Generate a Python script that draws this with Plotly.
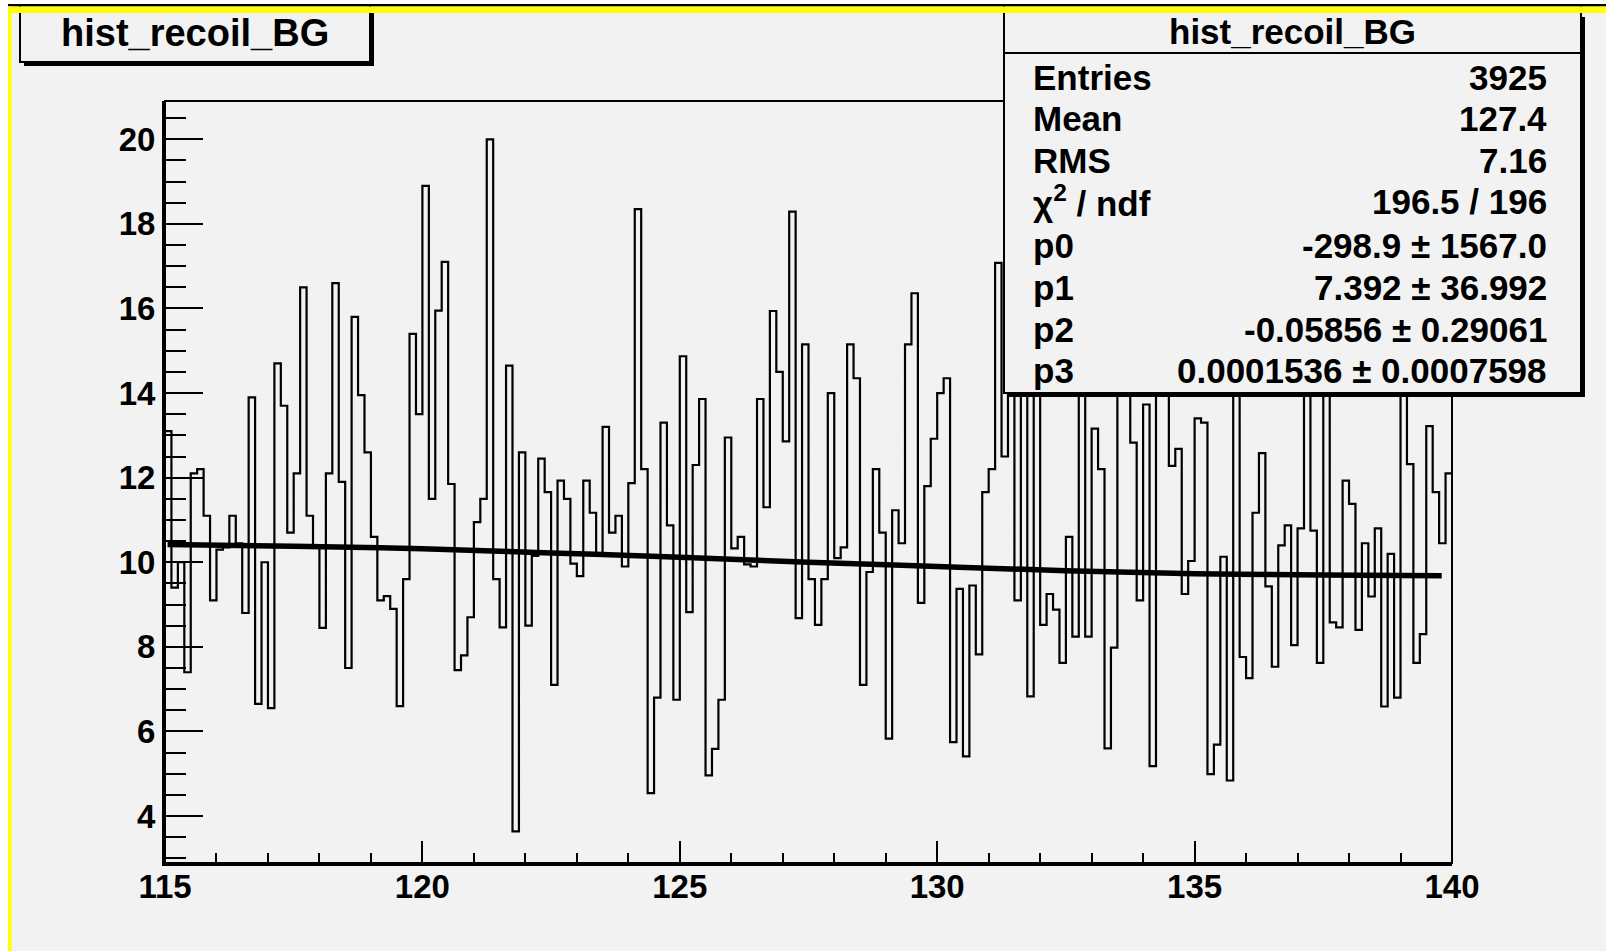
import plotly.graph_objects as go

# ---------------- data ----------------
x_min, x_max = 115.0, 140.0
bin_width = 0.125
counts = [
    13.1, 9.4, 10.0, 7.4, 12.1, 12.2, 11.1, 9.1, 10.3, 10.35,
    11.1, 10.45, 8.8, 13.9, 6.65, 10.0, 6.55, 14.7, 13.7, 10.7,
    12.1, 16.5, 11.1, 10.4, 8.45, 12.1, 16.6, 11.9, 7.5, 15.8,
    13.95, 12.6, 10.6, 9.1, 9.2, 8.9, 6.6, 9.6, 15.4, 13.5,
    18.9, 11.5, 15.95, 17.1, 11.85, 7.45, 7.8, 8.7, 10.95, 11.5,
    20.0, 9.6, 8.46, 14.65, 3.64, 12.6, 8.5, 10.15, 12.45, 11.66,
    7.1, 11.93, 11.5, 9.97, 9.67, 11.93, 11.17, 10.2, 13.2, 10.7,
    11.1, 9.9, 11.87, 18.35, 12.2, 4.54, 6.8, 13.3, 10.87, 6.75,
    14.87, 8.82, 12.3, 13.86, 4.96, 5.59, 6.75, 12.95, 10.33, 10.6,
    9.95, 9.9, 13.86, 11.3, 15.94, 14.5, 12.86, 18.29, 8.68, 15.15,
    9.6, 8.52, 9.6, 14.0, 10.1, 10.35, 15.15, 14.35, 7.1, 9.77,
    12.2, 10.7, 5.83, 11.23, 10.45, 15.15, 16.36, 9.04, 11.8, 12.92,
    14.0, 14.35, 5.75, 9.37, 5.41, 9.45, 7.82, 11.66, 12.2, 17.08,
    12.5, 15.6, 9.1, 16.2, 6.83, 15.0, 8.52, 9.25, 8.88, 7.62,
    10.6, 8.24, 15.4, 8.24, 13.16, 12.2, 5.6, 7.98, 14.8, 16.0,
    12.83, 9.1, 13.73, 5.18, 15.3, 14.6, 12.28, 12.68, 9.25, 10.03,
    13.4, 13.3, 4.99, 5.69, 10.13, 4.84, 14.9, 7.76, 7.26, 11.17,
    12.58, 9.43, 7.53, 10.4, 10.87, 8.04, 10.8, 15.7, 10.75, 7.62,
    16.4, 8.58, 8.46, 11.93, 11.38, 8.4, 10.45, 9.19, 10.8, 6.59,
    10.2, 6.8, 15.2, 12.32, 7.62, 8.3, 13.22, 11.66, 10.45, 12.1,
]

fit_x = [115.05, 117.5, 120.0, 122.5, 125.0, 127.5, 130.0, 132.5, 135.0, 137.5, 139.8]
fit_y = [10.42, 10.38, 10.32, 10.22, 10.12, 10.0, 9.9, 9.8, 9.73, 9.7, 9.68]

hist_name = "hist_recoil_BG"
stat_labels = ["Entries", "Mean", "RMS", "χ<sup>2</sup> / ndf", "p0", "p1", "p2", "p3"]
stat_values = ["3925", "127.4", "7.16", "196.5 / 196",
               "-298.9 ± 1567.0", "7.392 ± 36.992",
               "-0.05856 ± 0.29061", "0.0001536 ± 0.0007598"]

y_ticks = [4, 6, 8, 10, 12, 14, 16, 18, 20]
x_ticks = [115, 120, 125, 130, 135, 140]

# ---------------- layout geometry ----------------
W, H = 1606, 951
L, R, T, B = 165, 154, 101, 88
PW = W - L - R
PH = H - T - B
BG = "#f2f2f2"
FONT = "Liberation Sans"


def px(x):
    return (x - L) / PW


def py(y):
    return (H - B - y) / PH


edges = [x_min + i * bin_width for i in range(len(counts) + 1)]
hist_y = counts + [counts[-1]]

fig = go.Figure()
fig.add_trace(go.Scatter(x=edges, y=hist_y, mode="lines", line_shape="hv",
                         line=dict(color="black", width=2.2), hoverinfo="skip",
                         showlegend=False))
fig.add_trace(go.Scatter(x=fit_x, y=fit_y, mode="lines", line_shape="spline",
                         line=dict(color="black", width=5.5), hoverinfo="skip",
                         showlegend=False))

shapes = []
# plot frame (thin top/right)
shapes.append(dict(type="rect", xref="paper", yref="paper", x0=0, x1=1, y0=0, y1=1,
                   line=dict(color="black", width=2), layer="above"))


def rect(x0, y0, x1, y1, fill, line_w=0, line_c="black"):
    return dict(type="rect", xref="paper", yref="paper",
                x0=px(x0), x1=px(x1), y0=py(y1), y1=py(y0),
                fillcolor=fill, line=dict(color=line_c, width=line_w), layer="above")


# title box (top-left) with shadow
shapes.append(rect(24, 9, 374, 66, "black"))
shapes.append(rect(20, 5, 370, 62, BG, 2))
# stats box with shadow
shapes.append(rect(1008, 17, 1585, 397, "black"))
shapes.append(rect(1004, 5, 1581, 393, BG, 2))
shapes.append(dict(type="line", xref="paper", yref="paper", x0=px(1004), x1=px(1581),
                   y0=py(53), y1=py(53), line=dict(color="black", width=2), layer="above"))
# canvas border decorations
shapes.append(rect(0, 0, 8, 951, "white"))
shapes.append(rect(0, 0, 1606, 4, "white"))
shapes.append(rect(8, 4, 1606, 6.5, "black"))
shapes.append(rect(8, 6.5, 1606, 13, "#ffff00"))
shapes.append(rect(8, 6.5, 11.5, 951, "#ffff00"))

annotations = []
annotations.append(dict(xref="paper", yref="paper", x=px(195), y=py(33), text=hist_name,
                        showarrow=False, xanchor="center", yanchor="middle",
                        font=dict(family=FONT, size=38, color="black", weight="bold")))
annotations.append(dict(xref="paper", yref="paper", x=px(1292), y=py(32), text=hist_name,
                        showarrow=False, xanchor="center", yanchor="middle",
                        font=dict(family=FONT, size=35, color="black", weight="bold")))
row_y = [77, 118, 160, 201, 245, 287, 329, 370]
for lab, val, yy in zip(stat_labels, stat_values, row_y):
    annotations.append(dict(xref="paper", yref="paper", x=px(1031), y=py(yy), text=lab,
                            showarrow=False, xanchor="left", yanchor="middle",
                            font=dict(family=FONT, size=35, color="black", weight="bold")))
    annotations.append(dict(xref="paper", yref="paper", x=px(1549), y=py(yy), text=val,
                            showarrow=False, xanchor="right", yanchor="middle",
                            font=dict(family=FONT, size=35, color="black", weight="bold")))

tickfont = dict(family=FONT, size=33, color="black", weight="bold")
fig.update_layout(
    width=W, height=H,
    margin=dict(l=L, r=R, t=T, b=B, pad=0),
    paper_bgcolor=BG, plot_bgcolor=BG,
    showlegend=False,
    shapes=shapes, annotations=annotations,
    xaxis=dict(range=[x_min, x_max], tickmode="array", tickvals=x_ticks,
               ticktext=[str(t) for t in x_ticks],
               ticks="inside", ticklen=22, tickwidth=2, tickcolor="black",
               ticklabelstandoff=-8,
               minor=dict(ticks="inside", ticklen=10, tickwidth=2, tickcolor="black",
                          dtick=1, tick0=115, showgrid=False),
               showline=True, linecolor="black", linewidth=3,
               showgrid=False, zeroline=False, tickfont=tickfont, fixedrange=True),
    yaxis=dict(range=[2.89, 20.905], tickmode="array", tickvals=y_ticks,
               ticktext=[str(t) for t in y_ticks],
               ticks="inside", ticklen=38, tickwidth=2, tickcolor="black",
               minor=dict(ticks="inside", ticklen=21, tickwidth=2, tickcolor="black",
                          dtick=0.5, tick0=4, showgrid=False),
               showline=True, linecolor="black", linewidth=3,
               showgrid=False, zeroline=False, tickfont=tickfont, fixedrange=True),
)

fig.write_html("out.html")
